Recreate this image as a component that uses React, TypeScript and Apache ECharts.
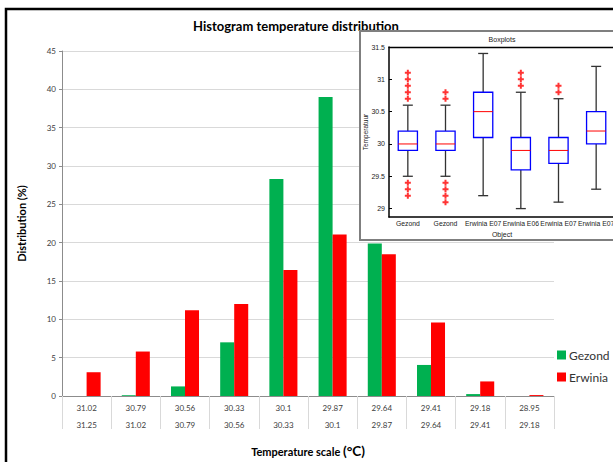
import React, { useEffect, useRef } from "react";
import * as echarts from "echarts";

// Histogram bins (lower row / upper row of the category table)
const binLow = ["31.02", "30.79", "30.56", "30.33", "30.1", "29.87", "29.64", "29.41", "29.18", "28.95"];
const binHigh = ["31.25", "31.02", "30.79", "30.56", "30.33", "30.1", "29.87", "29.64", "29.41", "29.18"];
const gezond = [0, 0.1, 1.25, 7.0, 28.3, 39.0, 19.9, 4.05, 0.25, 0];
const erwinia = [3.1, 5.8, 11.2, 12.0, 16.45, 21.05, 18.5, 9.6, 1.9, 0.12];

// Inset boxplots
const boxCats = ["Gezond", "Gezond", "Erwinia E07", "Erwinia E06", "Erwinia E07", "Erwinia E07"];
// [lower whisker, q1, median, q3, upper whisker]
const boxStats = [
  [29.5, 29.9, 30.0, 30.2, 30.6],
  [29.5, 29.9, 30.0, 30.2, 30.6],
  [29.2, 30.1, 30.5, 30.8, 31.4],
  [29.0, 29.6, 29.9, 30.1, 30.8],
  [29.1, 29.7, 29.9, 30.1, 30.7],
  [29.3, 30.0, 30.2, 30.5, 31.2],
];
const outliers = [
  [0, 31.1], [0, 31.0], [0, 30.9], [0, 30.8], [0, 30.7], [0, 29.4], [0, 29.3], [0, 29.2],
  [1, 30.8], [1, 30.7], [1, 29.4], [1, 29.3], [1, 29.2], [1, 29.1],
  [3, 31.1], [3, 31.0], [3, 30.9],
  [4, 30.9], [4, 30.8],
];
const boxTicks = [29, 29.5, 30, 30.5, 31, 31.5];

const MAIN_FONT = "Lato, 'Liberation Sans', sans-serif";
const INSET_FONT = "'Liberation Sans', Arial, sans-serif";

export default function App() {
  const mainRef = useRef<HTMLDivElement>(null);
  const insetRef = useRef<HTMLDivElement>(null);

  useEffect(() => {
    const main = echarts.init(mainRef.current!, null, { renderer: "svg" });
    main.setOption({
      animation: false,
      backgroundColor: "#fff",
      textStyle: { fontFamily: MAIN_FONT },
      title: {
        text: "Histogram temperature distribution",
        left: 291,
        top: 14,
        textAlign: "center",
        textStyle: { fontSize: 13, fontWeight: "bold", color: "#000", fontFamily: MAIN_FONT },
      },
      graphic: [
        {
          type: "polyline",
          shape: { points: [[6, 470], [6, 9], [620, 9]] },
          style: { fill: "none", stroke: "#000", lineWidth: 2.5 },
          silent: true,
        },
      ],
      legend: {
        orient: "vertical",
        left: 557,
        top: 349,
        padding: 0,
        itemWidth: 9,
        itemHeight: 9,
        itemGap: 10,
        icon: "rect",
        textStyle: { fontSize: 12, color: "#333", fontFamily: MAIN_FONT, padding: [0, 0, 0, -2] },
        data: ["Gezond", "Erwinia"],
      },
      grid: { left: 62, right: 59, top: 51, bottom: 66, outerBoundsMode: "none", containLabel: false },
      xAxis: {
        type: "category",
        data: binLow,
        name: "{a|Temperature scale }{b|(°C)}",
        nameLocation: "middle",
        nameGap: 48,
        nameTextStyle: {
          rich: {
            a: { fontSize: 11, fontWeight: "bold", color: "#000", fontFamily: MAIN_FONT },
            b: { fontSize: 13.5, fontWeight: "bold", color: "#000", fontFamily: MAIN_FONT },
          },
        },
        axisLine: { lineStyle: { color: "#8c8c8c", width: 1 } },
        axisTick: { show: true, length: 33, interval: 0, lineStyle: { color: "#d9d9d9" } },
        axisLabel: {
          interval: 0,
          fontSize: 8,
          color: "#404040",
          lineHeight: 17,
          margin: 3,
          formatter: (v: string, i: number) => `${v}\n${binHigh[i]}`,
        },
      },
      yAxis: {
        type: "value",
        min: 0,
        max: 45,
        interval: 5,
        name: "Distribution (%)",
        nameLocation: "middle",
        nameGap: 35,
        nameTextStyle: { fontSize: 11, fontWeight: "bold", color: "#000", fontFamily: MAIN_FONT },
        axisLine: { show: true, lineStyle: { color: "#8c8c8c" } },
        axisTick: { show: true, length: 3, lineStyle: { color: "#8c8c8c" } },
        axisLabel: { fontSize: 8, color: "#404040", margin: 6 },
        splitLine: { lineStyle: { color: "#d9d9d9" } },
      },
      series: [
        {
          name: "Gezond",
          type: "bar",
          data: gezond,
          itemStyle: { color: "#00b050" },
          barGap: "0%",
          barCategoryGap: "43%",
        },
        {
          name: "Erwinia",
          type: "bar",
          data: erwinia,
          itemStyle: { color: "#ff0000" },
          barGap: "0%",
          barCategoryGap: "43%",
        },
      ],
    });

    const inset = echarts.init(insetRef.current!, null, { renderer: "svg" });
    const plus = "path://M2,0h2v2h2v2h-2v2h-2v-2h-2v-2h2z";
    inset.setOption({
      animation: false,
      textStyle: { fontFamily: INSET_FONT },
      graphic: [
        {
          type: "rect",
          shape: { x: 29, y: 10, width: 300, height: 211 },
          style: { fill: "#fff" },
          silent: true,
          z: -10,
        },
        {
          type: "polyline",
          shape: { points: [[320, 11], [30, 11], [30, 220], [320, 220]] },
          style: { fill: "none", stroke: "#7f7f7f", lineWidth: 2 },
          silent: true,
          z: 100,
        },
        {
          type: "text",
          x: 172,
          y: 19,
          style: {
            text: "Boxplots",
            align: "center",
            verticalAlign: "middle",
            fontSize: 7,
            fill: "#222",
            fontFamily: INSET_FONT,
          },
        },
      ],
      grid: {
        left: 59,
        top: 27,
        right: -2,
        bottom: 35,
        outerBoundsMode: "none",
        containLabel: false,
      },
      xAxis: [
        {
          type: "category",
          data: boxCats,
          name: "Object",
          nameLocation: "middle",
          nameGap: 14,
          nameMoveOverlap: false,
          nameTextStyle: { fontSize: 7, color: "#222", fontFamily: INSET_FONT },
          axisLine: { lineStyle: { color: "#000", width: 1.5 } },
          axisTick: { inside: true, alignWithLabel: true, length: 3, lineStyle: { color: "#000" } },
          axisLabel: { interval: 0, fontSize: 6.8, color: "#222", margin: 3, hideOverlap: false },
        },
        {
          type: "category",
          data: boxCats,
          position: "top",
          axisLine: { lineStyle: { color: "#000", width: 1.3 } },
          axisTick: { inside: true, alignWithLabel: true, length: 3, lineStyle: { color: "#000" } },
          axisLabel: { show: false },
        },
      ],
      yAxis: {
        type: "value",
        min: 28.87,
        max: 31.5,
        name: "Temperatuur",
        nameLocation: "middle",
        nameGap: 20,
        nameMoveOverlap: false,
        nameTextStyle: { fontSize: 6.5, color: "#222", fontFamily: INSET_FONT },
        axisLine: { show: true, lineStyle: { color: "#000", width: 1.5 } },
        axisTick: { show: true, inside: true, length: 3, customValues: boxTicks, lineStyle: { color: "#000" } },
        axisLabel: {
          fontSize: 7,
          color: "#222",
          margin: 4,
          customValues: boxTicks,
          showMinLabel: true,
          showMaxLabel: true,
        },
        splitLine: { show: false },
      },
      series: [
        {
          type: "custom",
          xAxisIndex: 0,
          data: boxStats.map((s, i) => [i, ...s]),
          encode: { x: 0, y: [1, 2, 3, 4, 5] },
          renderItem: (params: any, api: any) => {
            const x = api.value(0);
            const lo = api.coord([x, api.value(1)]);
            const q1 = api.coord([x, api.value(2)]);
            const md = api.coord([x, api.value(3)]);
            const q3 = api.coord([x, api.value(4)]);
            const hi = api.coord([x, api.value(5)]);
            const bw = api.size([1, 0])[0] * 0.51;
            const cw = 10;
            const wStyle = { stroke: "#333", lineWidth: 1.3 };
            return {
              type: "group",
              children: [
                { type: "line", shape: { x1: lo[0], y1: lo[1], x2: q1[0], y2: q1[1] }, style: wStyle },
                { type: "line", shape: { x1: q3[0], y1: q3[1], x2: hi[0], y2: hi[1] }, style: wStyle },
                { type: "line", shape: { x1: lo[0] - cw / 2, y1: lo[1], x2: lo[0] + cw / 2, y2: lo[1] }, style: wStyle },
                { type: "line", shape: { x1: hi[0] - cw / 2, y1: hi[1], x2: hi[0] + cw / 2, y2: hi[1] }, style: wStyle },
                {
                  type: "rect",
                  shape: { x: q3[0] - bw / 2, y: q3[1], width: bw, height: q1[1] - q3[1] },
                  style: { fill: "#fff", stroke: "#0000ff", lineWidth: 1.3 },
                },
                {
                  type: "line",
                  shape: { x1: md[0] - bw / 2, y1: md[1], x2: md[0] + bw / 2, y2: md[1] },
                  style: { stroke: "#ff0000", lineWidth: 1 },
                },
              ],
            };
          },
        },
        {
          type: "scatter",
          xAxisIndex: 0,
          data: outliers,
          symbol: plus,
          symbolSize: 6,
          itemStyle: { color: "#ff0000" },
        },
      ],
    });

    return () => {
      main.dispose();
      inset.dispose();
    };
  }, []);

  return (
    <div style={{ position: "fixed", left: 0, top: 0, width: 613, height: 462, overflow: "hidden", background: "#fff" }}>
      <div ref={mainRef} style={{ position: "absolute", left: 0, top: 0, width: 613, height: 462 }} />
      <div ref={insetRef} style={{ position: "absolute", left: 330, top: 20, width: 283, height: 232, zIndex: 2 }} />
    </div>
  );
}
